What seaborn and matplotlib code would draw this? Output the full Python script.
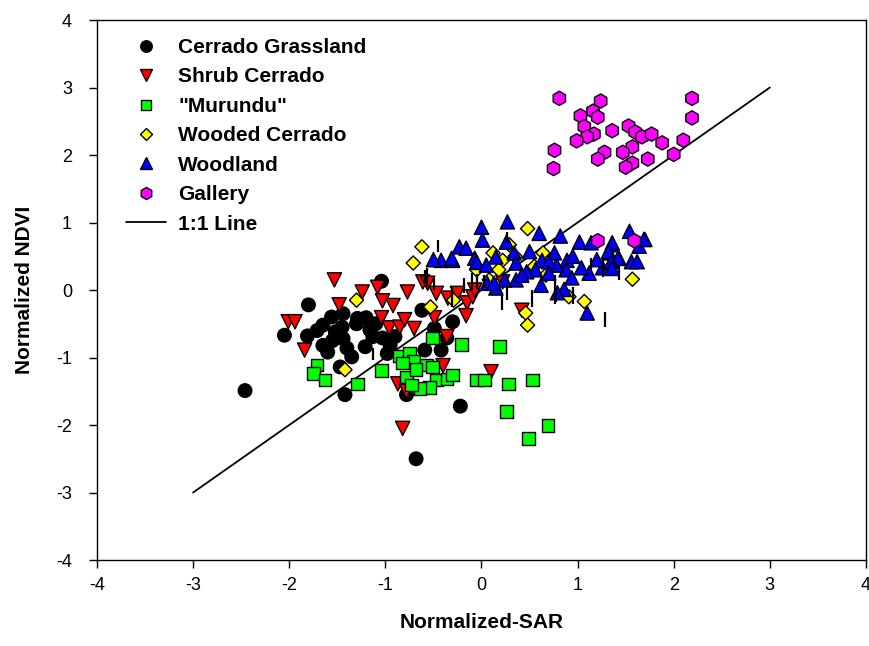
"""
Normalized NDVI against normalized SAR for the Cerrado vegetation classes,
with the 1:1 line and the vertical error bars.
"""
import numpy as np
import pandas as pd
import seaborn as sns
import matplotlib
matplotlib.use('Agg')
import matplotlib.pyplot as plt

sns.set_style('ticks')
plt.rcParams['font.family'] = ['Liberation Sans', 'DejaVu Sans']
plt.rcParams['axes.unicode_minus'] = False
plt.rcParams['text.color'] = 'black'
plt.rcParams['axes.labelcolor'] = 'black'

classes = ['Cerrado Grassland', 'Shrub Cerrado', '"Murundu"',
           'Wooded Cerrado', 'Woodland', 'Gallery']

grass_x = [-2.46, -2.05, -1.80, -1.81, -1.71, -1.65, -1.56, -1.44, -1.45,
           -1.44, -1.65, -1.60, -1.40, -1.35, -1.47, -1.42, -1.29, -1.20,
           -1.16, -1.21, -1.13, -1.04, -1.03, -0.98, -0.90, -0.78, -0.62,
           -0.59, -0.42, -0.49, -0.30, -0.36, -0.22, -0.68, -1.30, -1.52,
           -1.55, -1.10, -0.95]
grass_y = [-1.49, -0.67, -0.22, -0.68, -0.60, -0.52, -0.40, -0.35, -0.55,
           -0.72, -0.82, -0.92, -0.86, -0.99, -1.14, -1.55, -0.42, -0.41,
           -0.59, -0.84, -0.69, 0.13, -0.71, -0.94, -0.69, -1.55, -0.30,
           -0.89, -0.89, -0.57, -0.47, -0.71, -1.72, -2.50, -0.50, -0.62,
           -0.75, -0.50, -0.82]

shrub_x = [-1.53, -1.48, -2.01, -1.94, -1.84, -1.08, -1.24, -1.03, -0.92,
           -0.77, -0.61, -0.56, -0.47, -0.35, -0.15, -0.16, -0.09, -1.04,
           -0.96, -0.85, -0.70, -0.80, -0.49, -0.36, -0.40, 0.10, -0.87,
           -0.78, -0.82, 0.42, -0.07, 0.22, -0.25]
shrub_y = [0.15, -0.22, -0.47, -0.47, -0.89, 0.04, -0.03, -0.16, -0.23,
           -0.03, 0.12, 0.10, -0.05, -0.12, -0.19, -0.38, -0.10, -0.41,
           -0.56, -0.55, -0.57, -0.44, -0.41, -0.69, -1.12, -1.21, -1.39,
           -1.50, -2.05, -0.30, 0.00, 0.12, -0.05]

murundu_x = [-1.71, -1.75, -1.63, -1.29, -1.04, -0.85, -0.75, -0.71, -0.78,
             -0.57, -0.51, -0.47, -0.36, -0.30, -0.54, -0.64, -0.73, -0.51,
             -0.21, -0.05, 0.03, 0.19, 0.28, 0.53, 0.26, 0.69, 0.49, -0.68,
             -0.82]
murundu_y = [-1.11, -1.24, -1.33, -1.39, -1.19, -0.98, -0.94, -1.06, -1.29,
             -1.11, -1.14, -1.33, -1.32, -1.26, -1.44, -1.46, -1.41, -0.71,
             -0.81, -1.33, -1.33, -0.84, -1.39, -1.33, -1.80, -2.01, -2.20,
             -1.18, -1.08]

wooded_x = [-0.62, -0.71, -1.30, -0.53, -0.29, -1.42, 0.48, 0.12, 0.22,
            0.29, 0.64, 0.46, 0.48, 1.07, 0.91, 0.67, 0.08, 1.57, 0.35,
            -0.05, 0.55, 0.18]
wooded_y = [0.64, 0.40, -0.15, -0.25, -0.15, -1.18, 0.91, 0.55, 0.44, 0.67,
            0.55, -0.34, -0.52, -0.17, -0.10, 0.22, 0.15, 0.16, 0.50, 0.30,
            0.35, 0.30]

woodland_x = [0.00, 0.27, 0.01, 0.60, 0.82, 1.02, 1.14, 1.36, 1.54, 1.70,
              1.64, 1.56, 1.62, 1.43, 1.33, 1.26, 1.12, 1.04, 0.89, 0.88,
              0.94, 0.78, 0.63, 0.76, 0.56, 0.62, 0.86, 0.79, 1.10, 0.47,
              0.36, 0.24, 0.15, 0.06, 0.34, 0.26, 0.50, 0.36, -0.23, -0.16,
              -0.30, -0.07, 0.15, -0.42, -0.31, -0.05, 0.05, 0.13, 1.36,
              1.32, 1.42, 1.35, 1.36, 1.69, 0.70, 0.95, -0.50, 0.42, 0.70,
              1.20]
woodland_y = [0.93, 1.01, 0.74, 0.84, 0.80, 0.71, 0.70, 0.67, 0.87, 0.75,
              0.65, 0.42, 0.42, 0.47, 0.55, 0.33, 0.25, 0.33, 0.44, 0.30,
              0.18, 0.37, 0.44, 0.55, 0.30, 0.07, 0.01, -0.04, -0.34, 0.27,
              0.15, 0.15, 0.03, 0.10, 0.55, 0.71, 0.57, 0.40, 0.64, 0.62,
              0.44, 0.47, 0.49, 0.44, 0.47, 0.41, 0.37, 0.10, 0.70, 0.57,
              0.47, 0.42, 0.32, 0.75, 0.42, 0.50, 0.45, 0.22, 0.25, 0.45]

gallery_x = [0.81, 1.24, 1.16, 1.21, 1.03, 1.07, 1.17, 1.10, 0.99, 1.36,
             1.53, 1.60, 1.67, 1.77, 1.88, 1.57, 1.47, 1.28, 1.21, 1.57,
             1.50, 1.73, 2.00, 2.10, 2.19, 2.19, 0.76, 0.75, 1.21, 1.59]
gallery_y = [2.84, 2.80, 2.65, 2.56, 2.58, 2.42, 2.31, 2.27, 2.21, 2.36,
             2.43, 2.34, 2.27, 2.31, 2.18, 2.12, 2.04, 2.04, 1.94, 1.88,
             1.82, 1.94, 2.01, 2.22, 2.84, 2.55, 2.07, 1.80, 0.73, 0.73]

# vertical error bars: x, lower, upper
bar_x = [-1.13, -0.45, -0.59, -0.18, -0.10, -0.05, -0.31, 0.03, 0.21, 0.27,
         0.53, 0.76, 0.78, 0.95, 1.14, 1.26, 1.28, 1.43, 0.27, -0.57, -0.49]
bar_lo = [-1.04, 0.56, 0.10, -0.05, 0.00, 0.02, -0.25, 0.03, -0.30, -0.15,
          -0.25, -0.20, -0.18, -0.20, 0.30, 0.20, -0.55, 0.15, 0.70, 0.05,
          0.00]
bar_hi = [-0.86, 0.74, 0.30, 0.18, 0.25, 0.24, 0.05, 0.22, -0.03, 0.10,
          0.00, 0.22, 0.00, 0.05, 0.47, 0.47, -0.33, 0.35, 0.86, 0.33, 0.18]

line_x = [-3, 3]
line_y = [-3, 3]

colors = {classes[0]: 'black', classes[1]: '#ff0000', classes[2]: '#00ff00',
          classes[3]: '#ffff00', classes[4]: '#0000ff',
          classes[5]: '#ff00ff'}
markers = {classes[0]: 'o', classes[1]: 'v', classes[2]: 's',
           classes[3]: 'D', classes[4]: '^', classes[5]: 'h'}
sizes = {classes[0]: 95, classes[1]: 105, classes[2]: 82,
         classes[3]: 52, classes[4]: 105, classes[5]: 105}

groups = [(grass_x, grass_y), (shrub_x, shrub_y), (murundu_x, murundu_y),
          (wooded_x, wooded_y), (woodland_x, woodland_y),
          (gallery_x, gallery_y)]
frames = []
for name, (xs, ys) in zip(classes, groups):
    frames.append(pd.DataFrame({'SAR': xs, 'NDVI': ys, 'Class': name}))
df = pd.concat(frames, ignore_index=True)

fig = plt.figure(figsize=(8.69, 6.46), dpi=100)
ax = fig.add_axes([0.1116, 0.1331, 0.8849, 0.8359])

sns.scatterplot(data=df, x='SAR', y='NDVI', hue='Class', style='Class',
                size='Class', palette=colors, markers=markers, sizes=sizes,
                hue_order=classes, style_order=classes, size_order=classes,
                edgecolor='black', linewidth=1.0, alpha=1, ax=ax,
                legend=False, zorder=3)
sns.lineplot(x=line_x, y=line_y, color='black', linewidth=1.3, ax=ax,
             zorder=2)
ax.vlines(bar_x, bar_lo, bar_hi, color='black', linewidth=1.6, zorder=4)

handles = []
for name in classes:
    handles.append(plt.Line2D([], [], linestyle='none',
                              marker=markers[name],
                              markerfacecolor=colors[name],
                              markeredgecolor='black', markeredgewidth=1.0,
                              markersize=np.sqrt(sizes[name]) * 0.85))
handles.append(plt.Line2D([], [], color='black', linewidth=1.3))
ax.legend(handles, classes + ['1:1 Line'], loc='upper left',
          bbox_to_anchor=(0.027, 0.982), frameon=False,
          prop={'weight': 'bold', 'size': 15}, handlelength=1.9,
          handletextpad=0.6, labelspacing=0.5, borderaxespad=0)

ax.set_xlim(-4, 4)
ax.set_ylim(-4, 4)
ax.set_xticks(range(-4, 5))
ax.set_yticks(range(-4, 5))
ax.tick_params(direction='out', length=6, width=1, labelsize=13,
               colors='black', top=False, right=False)
ax.tick_params(axis='x', pad=6)
ax.tick_params(axis='y', pad=12)
for side in ['top', 'right', 'bottom', 'left']:
    ax.spines[side].set_visible(True)
    ax.spines[side].set_color('black')
    ax.spines[side].set_linewidth(1.0)
ax.set_xlabel('Normalized-SAR', fontsize=15, fontweight='bold', labelpad=14)
ax.set_ylabel('Normalized NDVI', fontsize=15, fontweight='bold', labelpad=16)

plt.savefig('out.png', dpi=100)
